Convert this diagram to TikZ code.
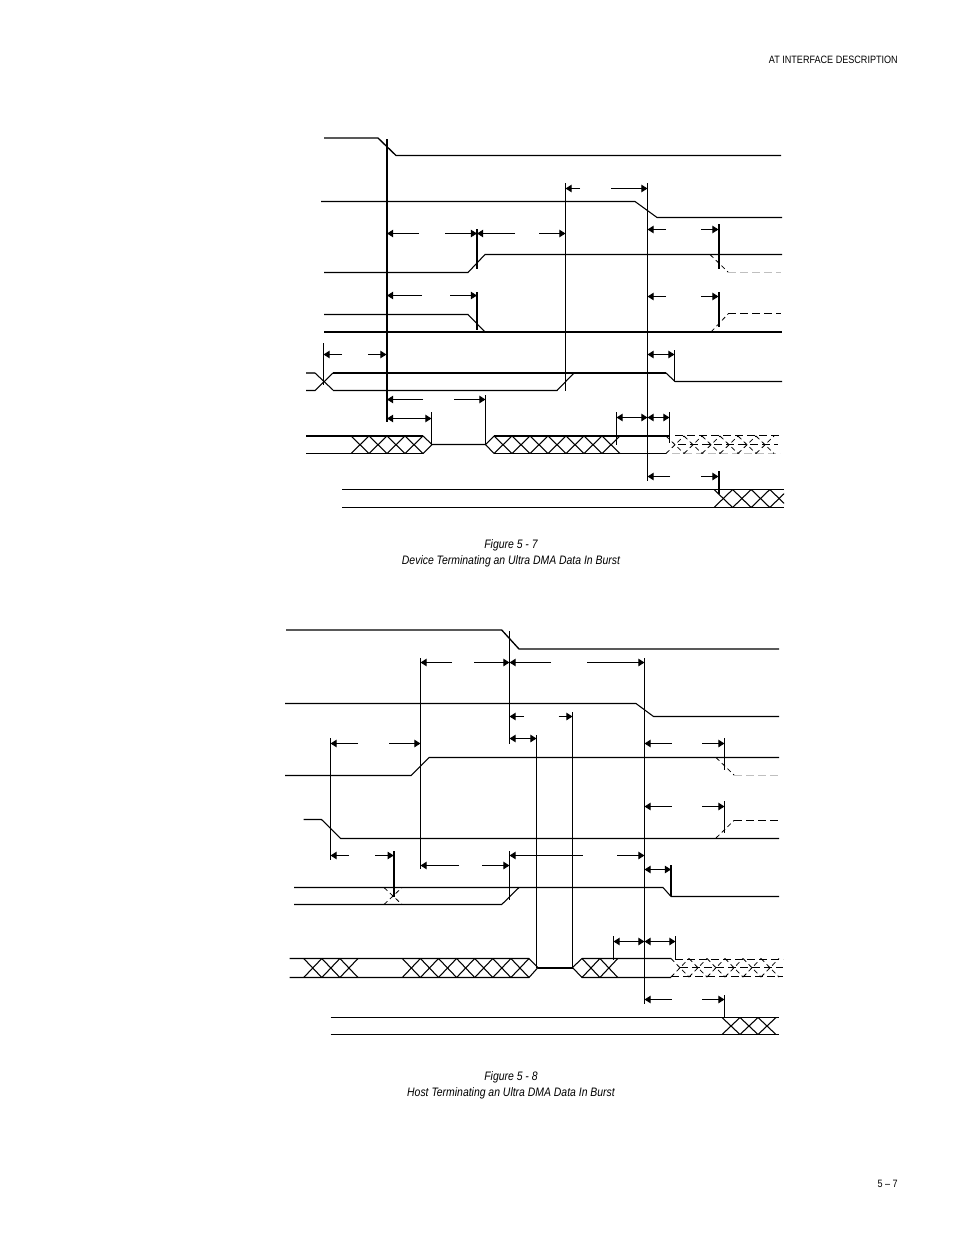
\documentclass[tikz,border=0pt]{standalone}
\usepackage{fontspec}
\setmainfont[FakeStretch=0.85]{Liberation Sans}
\usetikzlibrary{arrows.meta}
\tikzset{
  sig/.style={line width=0.8pt,black},
  thicksig/.style={line width=1.5pt,black},
  markline/.style={line width=0.8pt,black},
  heavymark/.style={line width=1.6pt,black},
  dsig/.style={line width=0.72pt,black,dash pattern=on 6pt off 3pt},
  gsig/.style={line width=0.75pt,black!25,dash pattern=on 6pt off 3pt},
  dcross/.style={line width=0.6pt,black,dash pattern=on 3.5pt off 2.5pt},
  dimtip/.style={line width=0.75pt,black,-{Triangle[length=4.6pt,width=5.6pt]}},
  dimboth/.style={line width=0.75pt,black,{Triangle[length=4.6pt,width=5.6pt]}-{Triangle[length=4.6pt,width=5.6pt]}},
  lbl/.style={inner sep=0pt,font=\fontsize{8pt}{9pt}\selectfont},
  captext/.style={inner sep=0pt,font=\fontsize{9.2pt}{10pt}\selectfont\itshape},
}
% half dimension: free end, tip
\newcommand\hdim[3]{\draw[dimtip] (#1,#3) -- (#2,#3);}
\newcommand\fdim[3]{\draw[dimboth] (#1,#3) -- (#2,#3);}
% split dimension: x1 inner1 inner2 x2 y
\newcommand\sdim[5]{\hdim{#2}{#1}{#5}\hdim{#3}{#4}{#5}}
% crossings: style, start, step, count, top, bottom
\newcommand\crossings[6]{%
  \foreach \i in {1,...,#4}{%
    \draw[#1] ({#2+(\i-1)*#3},#5) -- ({#2+\i*#3},#6);
    \draw[#1] ({#2+(\i-1)*#3},#6) -- ({#2+\i*#3},#5);
  }}
\begin{document}
\begin{tikzpicture}[x=0.75pt,y=-0.75pt]
\useasboundingbox (0,0) rectangle (954,1235);
\fill[white] (0,0) rectangle (954,1235);

\node[lbl,anchor=east] (hdr) at (898,59.5) {AT INTERFACE DESCRIPTION};
\node[lbl,anchor=east] (pg) at (898,1183.5) {5 -- 7};

% ---------- Figure 5-7 ----------
\draw[sig,line width=1pt] (324,138) -- (378,138) -- (396,155.5) -- (781,155.5);
\draw[sig] (321,201.5) -- (635,201.5) -- (657,217.5) -- (782,217.5);
\draw[sig] (324,272.5) -- (468,272.5) -- (485,254.5) -- (782,254.5);
\draw[dcross] (710,254.5) -- (728,272);
\draw[gsig] (728,272.5) -- (781,272.5);
\draw[sig] (324,314.5) -- (468,314.5) -- (485,332);
\draw[thicksig] (324,332) -- (782,332);
\draw[dcross] (711,332) -- (728,314);
\draw[dsig] (728,313.5) -- (781,313.5);

% bus 5
\draw[sig,black!70] (306,373) -- (315,373);
\draw[sig] (315,373) -- (333,390);
\draw[sig] (306,390.5) -- (315,390.5) -- (333,373);
\draw[sig] (333,390.5) -- (557,390.5) -- (574,373);
\draw[thicksig] (333,373) -- (666,373);
\draw[sig] (666,373) -- (675,381.5) -- (782,381.5);

% bus 6
\draw[thicksig] (306,436) -- (423,436);
\draw[sig] (306,453.5) -- (423,453.5);
\crossings{sig}{351}{18}{4}{436}{453.5}
\draw[sig] (423,436) -- (432,444.5) -- (485.5,444.5) -- (494,436);
\draw[sig] (423,453.5) -- (432,444.5);
\draw[sig] (485.5,444.5) -- (494,453.5);
\draw[thicksig] (494,436) -- (669,436);
\draw[sig] (494,453.5) -- (666,453.5);
\crossings{sig}{494}{18}{7}{436}{453.5}
\draw[dsig] (675,435.5) -- (780,435.5);
\draw[dsig] (678,444.5) -- (778,444.5);
\draw[gsig] (672,453.5) -- (780,453.5);
\crossings{dcross}{666}{18}{6}{436}{453.5}

% bus 7
\draw[sig] (342,489.5) -- (784,489.5);
\draw[sig] (342,507.5) -- (784,507.5);
\begin{scope}
\clip (710,485) rectangle (784,512);
\crossings{sig}{714}{18.6}{4}{489.5}{507.5}
\end{scope}

% markers
\draw[heavymark] (387,139) -- (387,422);
\draw[heavymark] (477,229) -- (477,269);
\draw[heavymark] (477,292) -- (477,330);
\draw[heavymark] (719,224) -- (719,269);
\draw[heavymark] (719,292) -- (719,327);
\draw[heavymark] (719,471) -- (719,494);
\draw[markline] (565.5,183) -- (565.5,391);
\draw[markline] (647.5,183) -- (647.5,481);
\draw[markline] (323.5,343) -- (323.5,385);
\draw[markline] (485.5,395) -- (485.5,444.5);
\draw[markline] (431.5,412) -- (431.5,444.5);
\draw[markline] (616.5,412) -- (616.5,445);
\draw[markline] (669.5,412) -- (669.5,443);
\draw[markline] (674.5,350) -- (674.5,381);

% dimensions
\sdim{387}{419}{445}{477}{233.5}
\sdim{477}{515}{539}{565.5}{233.5}
\sdim{565.5}{580}{611}{647.5}{188.5}
\sdim{647.5}{666}{701}{718.5}{229.5}
\sdim{387}{422}{450}{477}{295.5}
\sdim{647.5}{666}{701}{718.5}{296.5}
\sdim{323.5}{342}{368}{386.5}{354.5}
\fdim{647.5}{674.5}{354.5}
\sdim{387}{423}{454}{485.5}{399.5}
\fdim{387}{431.5}{418.5}
\fdim{616.5}{647.5}{417.5}
\fdim{647.5}{669.5}{417.5}
\sdim{647.5}{670}{701}{718.5}{476.5}

\node[captext,anchor=center] (c1a) at (511,545.5) {Figure 5 - 7};
\node[captext,anchor=center] (c1b) at (511,561.5) {Device Terminating an Ultra DMA Data In Burst};

% ---------- Figure 5-8 ----------
\draw[sig,line width=1pt] (286,630) -- (501.7,630) -- (519,649) -- (779,649);
\draw[sig] (285,703.5) -- (636,703.5) -- (653.5,716.5) -- (779,716.5);
\draw[sig] (285,775.5) -- (411,775.5) -- (429,757.5) -- (779,757.5);
\draw[dcross] (716,757.5) -- (734,775);
\draw[gsig] (734,775.5) -- (779,775.5);
\draw[sig] (303.5,819.5) -- (321.5,819.5) -- (340.7,838.5) -- (779,838.5);
\draw[dcross] (716,838) -- (734,820.5);
\draw[dsig] (734,820.5) -- (779,820.5);

% row 5
\draw[sig] (294,887.5) -- (663,887.5) -- (671,896.5) -- (779,896.5);
\draw[sig] (294,904.5) -- (501.7,904.5) -- (519,887.5);
\draw[dcross] (384,887.5) -- (402,904.5);
\draw[dcross] (384,904.5) -- (402,887.5);

% bus 6
\draw[sig] (289.5,958.5) -- (529,958.5) -- (538,967.5);
\draw[sig] (289.5,977.5) -- (529,977.5) -- (538,967.5);
\crossings{sig}{303.7}{18.1}{3}{958.5}{977.5}
\crossings{sig}{402.3}{18.1}{7}{958.5}{977.5}
\draw[thicksig] (538,967.5) -- (572.5,967.5);
\draw[sig] (572.5,967.5) -- (582,958.5) -- (671,958.5);
\draw[sig] (572.5,967.5) -- (582,977.5) -- (671,977.5);
\crossings{sig}{582}{17.9}{2}{958.5}{977.5}
\draw[dsig] (675,959.5) -- (783,959.5);
\draw[dsig] (680,967.5) -- (783,967.5);
\draw[dsig] (671,976.5) -- (783,976.5);
\crossings{dcross}{671}{18}{6}{958.5}{977}

% bus 7
\draw[sig] (330.5,1017.5) -- (779,1017.5);
\draw[sig] (330.5,1034.5) -- (779,1034.5);
\crossings{sig}{722}{18}{3}{1017.5}{1034.5}

% markers
\draw[markline] (330.5,738) -- (330.5,860);
\draw[markline] (420.5,658) -- (420.5,869);
\draw[markline] (509.5,631) -- (509.5,744);
\draw[markline] (509.5,851) -- (509.5,900);
\draw[markline] (536.5,735) -- (536.5,967.5);
\draw[markline] (572.5,712) -- (572.5,967.5);
\draw[markline] (644.5,658) -- (644.5,1004);
\draw[markline] (724.5,738) -- (724.5,770);
\draw[markline] (724.5,801) -- (724.5,833);
\draw[markline] (724.5,995) -- (724.5,1017);
\draw[markline] (613.5,936) -- (613.5,960);
\draw[markline] (675.5,936) -- (675.5,960);
\draw[heavymark] (393.7,851) -- (393.7,897);
\draw[heavymark] (671,865) -- (671,896);

% dimensions
\sdim{420.5}{452}{474}{509.5}{662.5}
\sdim{509.5}{551}{587}{644.5}{662.5}
\sdim{509.5}{524}{558.7}{572.5}{716.5}
\fdim{509.5}{536.5}{738.5}
\sdim{330.5}{358}{389}{420.5}{743.5}
\sdim{644.5}{671.7}{702}{724.5}{743.5}
\sdim{644.5}{671.7}{702}{724.5}{806.5}
\sdim{330.5}{349}{375}{393.7}{855.5}
\sdim{509.5}{582.7}{617}{644.5}{855.5}
\sdim{420.5}{459}{482}{509.5}{865.5}
\fdim{644.5}{671}{869.5}
\fdim{613.5}{644.5}{941.5}
\fdim{644.5}{675.5}{941.5}
\sdim{644.5}{671.7}{702}{724.5}{999.5}

\node[captext,anchor=center] (c2a) at (511,1077.5) {Figure 5 - 8};
\node[captext,anchor=center] (c2b) at (511,1093.5) {Host Terminating an Ultra DMA Data In Burst};
\end{tikzpicture}
\end{document}
